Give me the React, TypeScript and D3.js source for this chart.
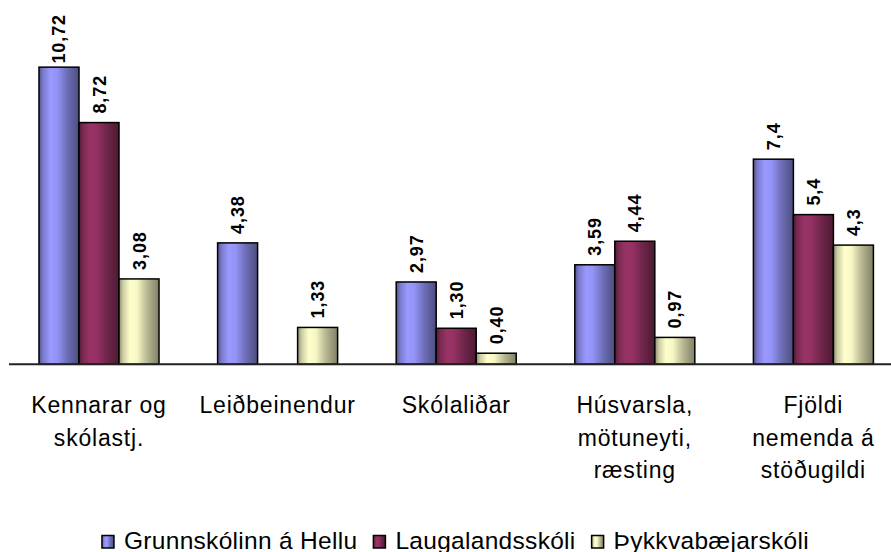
import React, { useEffect, useRef } from "react";
import * as d3 from "d3";

const categories = [
  ["Kennarar og", "skólastj."],
  ["Leiðbeinendur"],
  ["Skólaliðar"],
  ["Húsvarsla,", "mötuneyti,", "ræsting"],
  ["Fjöldi", "nemenda á", "stöðugildi"],
];
const seriesNames = ["Grunnskólinn á Hellu", "Laugalandsskóli", "Þykkvabæjarskóli"];
const seriesColors = ["#9999ff", "#993366", "#ffffcc"];

const hellu = [10.72, 4.38, 2.97, 3.59, 7.4];
const laugaland = [8.72, null, 1.3, 4.44, 5.4];
const thykkvabaer = [3.08, 1.33, 0.4, 0.97, 4.3];

const helluLabels = ["10,72", "4,38", "2,97", "3,59", "7,4"];
const laugalandLabels = ["8,72", "", "1,30", "4,44", "5,4"];
const thykkvabaerLabels = ["3,08", "1,33", "0,40", "0,97", "4,3"];

const App = () => {
  const ref = useRef<SVGSVGElement>(null);

  useEffect(() => {
    const svg = d3.select(ref.current);
    svg.selectAll("*").remove();

    const W = 891;
    const baseY = 364.3;
    const font = "'Liberation Sans', Arial, sans-serif";

    const series = [
      { name: seriesNames[0], values: hellu, labels: helluLabels },
      { name: seriesNames[1], values: laugaland, labels: laugalandLabels },
      { name: seriesNames[2], values: thykkvabaer, labels: thykkvabaerLabels },
    ];

    // cylinder-ish shading like the old office charts
    const defs = svg.append("defs");
    seriesColors.forEach((c, i) => {
      const g = defs.append("linearGradient")
        .attr("id", "grad" + i)
        .attr("x1", "0%").attr("x2", "100%").attr("y1", "0%").attr("y2", "0%");
      const stops: [number, number][] = [[0, 0.55], [0.1, 0.8], [0.28, 1], [0.45, 0.97], [0.7, 0.72], [1, 0.5]];
      stops.forEach(([o, k]) => {
        const col = d3.rgb(c);
        g.append("stop")
          .attr("offset", o)
          .attr("stop-color", d3.rgb(col.r * k, col.g * k, col.b * k).toString());
      });
    });

    const catIdx = categories.map((_, i) => String(i));
    const x0 = d3.scaleBand()
      .domain(catIdx)
      .range([9.7, 902.7])
      .paddingInner(0.328)
      .paddingOuter(0.164);
    const x1 = d3.scaleBand()
      .domain(series.map(s => s.name))
      .range([0, x0.bandwidth()]);
    const y = d3.scaleLinear().domain([0, 12]).range([baseY, baseY - 12 * 27.72]);

    const groups = svg.selectAll("g.cat")
      .data(catIdx)
      .enter()
      .append("g")
      .attr("class", "cat")
      .attr("transform", d => `translate(${x0(d)},0)`);

    groups.selectAll("rect")
      .data(d => series.map((s, si) => ({ si, name: s.name, v: s.values[+d] })).filter(o => o.v != null))
      .enter()
      .append("rect")
      .attr("x", d => x1(d.name)!)
      .attr("y", d => y(d.v as number))
      .attr("width", x1.bandwidth())
      .attr("height", d => baseY - y(d.v as number))
      .attr("fill", d => `url(#grad${d.si})`)
      .attr("stroke", "#000")
      .attr("stroke-width", 1.5);

    // value labels, rotated
    groups.selectAll("text.val")
      .data(d => series.map((s, si) => ({ si, name: s.name, v: s.values[+d], lab: s.labels[+d] })).filter(o => o.v != null))
      .enter()
      .append("text")
      .attr("class", "val")
      .style("font-family", font)
      .style("font-weight", "bold")
      .style("font-size", "18px")
      .style("letter-spacing", "0.9px")
      .attr("fill", "#000")
      .text(d => d.lab)
      .each(function (d) {
        const el = this as SVGTextElement;
        const len = el.getComputedTextLength();
        let yy = y(d.v as number) - 9;
        if (yy - len < 14) yy = 14 + len;
        const cx = x1(d.name)! + x1.bandwidth() / 2 + 6.5;
        d3.select(el).attr("transform", `translate(${cx},${yy}) rotate(-90)`);
      });

    // baseline
    svg.append("line")
      .attr("x1", 9).attr("x2", W)
      .attr("y1", baseY).attr("y2", baseY)
      .attr("stroke", "#222")
      .attr("stroke-width", 2);

    // category labels
    groups.each(function (d) {
      const t = d3.select(this).append("text")
        .attr("text-anchor", "middle")
        .style("font-family", font)
        .style("font-size", "23px")
        .style("letter-spacing", "0.8px")
        .attr("fill", "#000");
      categories[+d].forEach((line, li) => {
        t.append("tspan")
          .attr("x", x0.bandwidth() / 2)
          .attr("y", 413 + li * 32.5)
          .text(line);
      });
    });

    // legend
    const leg = svg.append("g");
    let lx = 0;
    series.forEach((s, i) => {
      const g = leg.append("g").attr("transform", `translate(${lx},0)`);
      g.append("rect")
        .attr("x", 0).attr("y", 535.5)
        .attr("width", 12).attr("height", 12.5)
        .attr("fill", `url(#grad${i})`)
        .attr("stroke", "#000")
        .attr("stroke-width", 1.5);
      const t = g.append("text")
        .attr("x", 22)
        .attr("y", 549)
        .style("font-family", font)
        .style("font-size", "24.5px")
        .style("letter-spacing", "0.3px")
        .attr("fill", "#000")
        .text(s.name);
      const w = (t.node() as SVGTextElement).getComputedTextLength();
      lx += 22 + w + 16;
    });
    const total = lx - 16;
    leg.attr("transform", `translate(${(W - total) / 2 + 10},0)`);
  }, []);

  return (
    <svg
      ref={ref}
      width={891}
      height={552}
      style={{ position: "absolute", left: 0, top: 0, background: "#fff" }}
    />
  );
};

export default App;
